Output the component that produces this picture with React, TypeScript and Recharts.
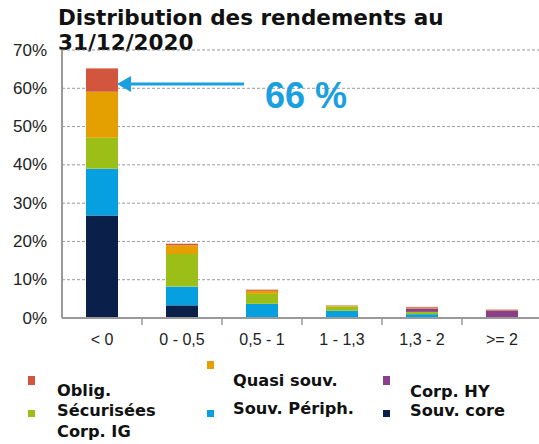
import React from 'react'
import {
  BarChart, Bar, XAxis, YAxis, CartesianGrid,
} from 'recharts'

const categories = ['< 0', '0 - 0,5', '0,5 - 1', '1 - 1,3', '1,3 - 2', '>= 2']
const souvCore = [26.8, 3.3, 0, 0, 0, 0]
const souvPeriph = [12.2, 4.9, 3.7, 1.9, 1.0, 0]
const corpIG = [8.1, 8.5, 2.6, 1.1, 0.6, 0]
const corpHY = [0, 0, 0, 0, 0.9, 2.0]
const quasiSouv = [12.0, 2.3, 0.8, 0.2, 0.2, 0.1]
const obligSecur = [6.1, 0.4, 0.3, 0.1, 0.2, 0.1]
const yTicks = [0, 10, 20, 30, 40, 50, 60, 70]

const SERIES = [
  { key: 'souvCore', name: 'Souv. core', color: '#0b1f4b', values: souvCore },
  { key: 'souvPeriph', name: 'Souv. Périph.', color: '#069fe0', values: souvPeriph },
  { key: 'corpIG', name: 'Corp. IG', color: '#9bbf17', values: corpIG },
  { key: 'corpHY', name: 'Corp. HY', color: '#8b3f8b', values: corpHY },
  { key: 'quasiSouv', name: 'Quasi souv.', color: '#e3a000', values: quasiSouv },
  { key: 'obligSecur', name: 'Oblig. Sécurisées', color: '#d2553d', values: obligSecur },
]

const chartData = categories.map((cat, i) => {
  const row: Record<string, string | number> = { cat }
  SERIES.forEach(s => { row[s.key] = s.values[i] })
  return row
})

const colorOf = (key: string) => SERIES.find(s => s.key === key)!.color

const FONT = '"Liberation Sans", Arial, sans-serif'
const BOLD = '"DejaVu Sans", sans-serif'

// legend drawn the way the original slide lays it out
const legendMarkers = [
  { key: 'obligSecur', x: 28, y: 376, h: 9 },
  { key: 'corpIG', x: 28, y: 410, h: 7 },
  { key: 'quasiSouv', x: 207, y: 361, h: 8 },
  { key: 'souvPeriph', x: 207, y: 410, h: 7 },
  { key: 'corpHY', x: 383, y: 376, h: 9 },
  { key: 'souvCore', x: 383, y: 410, h: 7 },
]
const legendLines = [
  { text: 'Oblig.', x: 57, base: 396 },
  { text: 'Sécurisées', x: 57, base: 416 },
  { text: 'Corp. IG', x: 57, base: 437 },
  { text: 'Quasi souv.', x: 233, base: 386 },
  { text: 'Souv. Périph.', x: 233, base: 414 },
  { text: 'Corp. HY', x: 410, base: 397 },
  { text: 'Souv. core', x: 410, base: 416 },
]

function YTick({ x, y, payload }: any) {
  return (
    <text x={x - 7} y={y} textAnchor="end" dominantBaseline="central" fontSize={17} fill="#222" fontFamily={FONT}>
      {payload.value}%
    </text>
  )
}

function XTick({ x, y, payload }: any) {
  return (
    <g>
      <line x1={x + 40} x2={x + 40} y1={y - 8} y2={y - 1} stroke="#999" strokeWidth={1.5} />
      <text x={x} y={y + 19} textAnchor="middle" fontSize={16} fill="#222" fontFamily={FONT}>
        {payload.value}
      </text>
    </g>
  )
}

export default function App() {
  return (
    <div style={{ position: 'absolute', left: 0, top: 0, width: 539, height: 444, background: '#fff', overflow: 'hidden' }}>
      <div style={{ position: 'absolute', left: 58, top: 5, fontFamily: BOLD, fontWeight: 700, fontSize: 21.5, lineHeight: '25px', color: '#111' }}>
        Distribution des rendements au<br />31/12/2020
      </div>
      <div style={{ position: 'absolute', left: 0, top: 0 }}>
        <BarChart width={560} height={360} data={chartData} margin={{ top: 50, right: 18, bottom: 0, left: 0 }} barSize={32}>
          <CartesianGrid vertical={false} stroke="#999" strokeDasharray="3 2" />
          <XAxis dataKey="cat" height={42} tickLine={false} axisLine={{ stroke: '#999', strokeWidth: 2 }} tick={<XTick />} interval={0} />
          <YAxis width={62} domain={[0, 70]} ticks={yTicks} tickLine={false} axisLine={{ stroke: '#999', strokeWidth: 2 }} tick={<YTick />} />
          {SERIES.map(s => (
            <Bar key={s.key} dataKey={s.key} name={s.name} stackId="a" fill={s.color} isAnimationActive={false} />
          ))}
        </BarChart>
      </div>
      <svg style={{ position: 'absolute', left: 0, top: 0 }} width={539} height={444}>
        <line x1={130} y1={84} x2={244} y2={84} stroke="#1aa0e0" strokeWidth={3} />
        <polygon points="117,84 131,76 131,92" fill="#1aa0e0" />
        <text x={265} y={108} fontSize={36} fontWeight={700} fill="#1aa0e0" fontFamily={FONT}>66 %</text>
        {legendMarkers.map(m => (
          <rect key={m.key} x={m.x} y={m.y} width={7} height={m.h} fill={colorOf(m.key)} />
        ))}
        {legendLines.map(l => (
          <text key={l.text} x={l.x} y={l.base} fontSize={16.2} fontWeight={700} fill="#111" fontFamily={BOLD}>{l.text}</text>
        ))}
      </svg>
    </div>
  )
}
